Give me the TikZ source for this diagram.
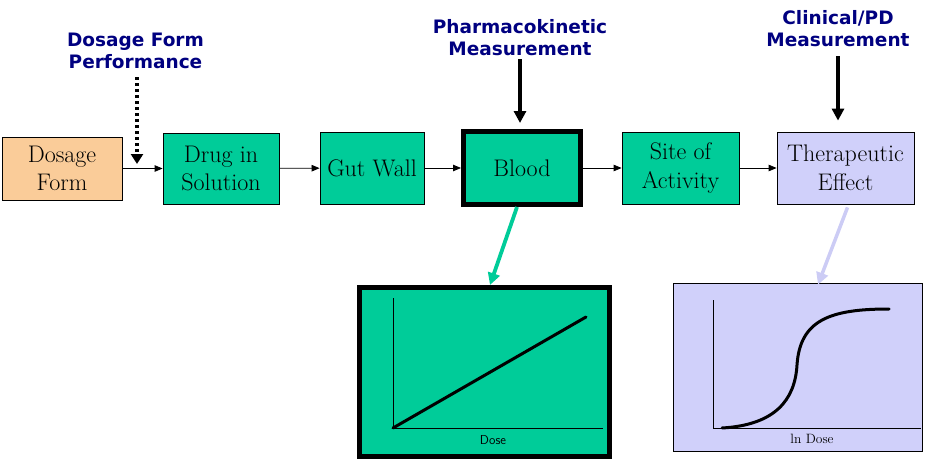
\documentclass[tikz,border=0pt]{standalone}
\usepackage{fontspec}
\usepackage{xcolor}
\usepackage{tikz}
\usetikzlibrary{arrows.meta,calc}
\newfontfamily\headfont{DejaVu Sans}
\definecolor{tealfill}{RGB}{0,204,153}
\definecolor{peach}{RGB}{250,204,153}
\definecolor{lavfill}{RGB}{208,208,250}
\definecolor{lavarrow}{RGB}{204,204,245}
\definecolor{navyhead}{RGB}{0,0,128}

\begin{document}
\begin{tikzpicture}[
		x=1pt, y=-1pt,
		stage/.style={
			rectangle, draw=black, line width=0.8pt,
			align=center, inner sep=0pt,
			font=\fontsize{24}{28.5}\selectfont
		},
		greenbox/.style={stage, fill=tealfill},
		probe/.style={
			align=center, inner sep=0pt, text=navyhead,
			font=\headfont\bfseries\fontsize{18.5}{22}\selectfont
		},
		plotbox/.style={rectangle, draw=black, inner sep=0pt},
		link/.style={-{Triangle[length=8pt,width=6.5pt]}, line width=0.8pt},
		meas/.style={-{Triangle[length=12pt,width=12pt]}, line width=3.2pt},
		axis/.style={line width=0.7pt},
		curve/.style={line width=3pt, line cap=round}
		]
		\useasboundingbox (0,0) rectangle (927,460);
		\node[stage, fill=peach, minimum width=120pt, minimum height=63pt] (dosage) at (62,168.5) {Dosage\\Form};
		\node[greenbox, minimum width=116pt, minimum height=71pt] (drug) at (221,168.5) {Drug in\\Solution};
		\node[greenbox, minimum width=104pt, minimum height=72pt] (gut) at (372,168) {Gut Wall};
		\node[greenbox, line width=5pt, minimum width=117pt, minimum height=73pt] (blood) at (522,168) {Blood};
		\node[greenbox, minimum width=117pt, minimum height=72pt] (site) at (680.5,168) {Site of\\Activity};
		\node[stage, fill=lavfill, minimum width=137pt, minimum height=72pt] (effect) at (845.5,168) {Therapeutic\\Effect};
		\foreach \a/\b in {dosage/drug, drug/gut, gut/blood, blood/site, site/effect}
		\draw[link] (\a) -- (\b);
		
		\node[probe] (dfp) at (135.5,51) {Dosage Form\\Performance};
		\node[probe] (pkm) at (520,38) {Pharmacokinetic\\Measurement};
		\node[probe] (cpd) at (838,29) {Clinical/PD\\Measurement};
		\coordinate (dfhit) at (137,164);
		\draw[line width=3.5pt, dash pattern=on 3pt off 3pt, -{Triangle[length=10pt,width=12pt]}]
		(dfhit |- dfp.south) ++(0,8) -- (dfhit);
		\draw[meas, shorten <=3pt, shorten >=6pt] (pkm.south) -- (pkm.south |- blood.north);
		\draw[meas, shorten <=9pt, shorten >=11pt] (cpd.south) -- (cpd.south |- effect.north);
		
		\node[plotbox, fill=tealfill, line width=5pt, minimum width=250pt, minimum height=169pt] (pkplot) at (484.5,372) {};
		\node[plotbox, fill=lavfill, line width=0.8pt, minimum width=249pt, minimum height=168pt] (pdplot) at (797.5,367) {};
		\draw[-{Triangle[length=12pt,width=12pt]}, line width=3.8pt, tealfill]
		([xshift=-5pt]blood.south) -- ([xshift=5.5pt]pkplot.north);
		\draw[-{Triangle[length=12pt,width=12pt]}, line width=3.5pt, lavarrow]
		([xshift=2pt, yshift=-3pt]effect.south) -- ([xshift=20.5pt, yshift=-2pt]pdplot.north);
		
		\draw[axis] (393,298) -- (393,428) -- (603,428);
		\draw[curve] (393,428) -- (586,317);
		\node[font=\sffamily\fontsize{13}{15}\selectfont] (doselbl) at (493,440) {Dose};
		
		\draw[axis] (713,300) -- (713,428) -- (921,428);
		\draw[curve] (722,428) .. controls (775,425) and (795,400) .. (797,365)
		.. controls (800,320) and (830,309) .. (889,309);
		\node[font=\fontsize{13.5}{15}\selectfont] (lndose) at (812,439) {ln Dose};
\end{tikzpicture}
\end{document}
